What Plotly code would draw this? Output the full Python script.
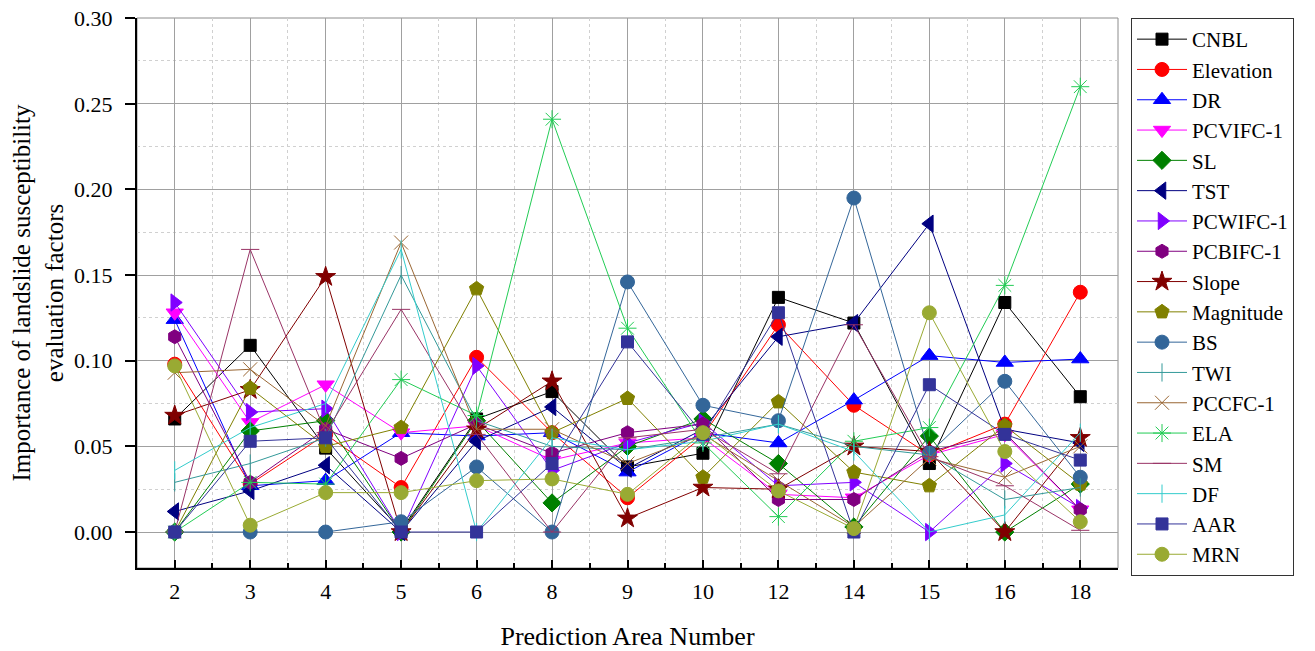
import plotly.graph_objects as go

areas = ["2", "3", "4", "5", "6", "8", "9", "10", "12", "14", "15", "16", "18"]

CNBL      = [0.066, 0.109, 0.049, 0.001, 0.066, 0.082, 0.038, 0.046, 0.137, 0.122, 0.040, 0.134, 0.079]
Elevation = [0.098, 0.028, 0.057, 0.026, 0.102, 0.058, 0.020, 0.056, 0.121, 0.074, 0.045, 0.063, 0.140]
DR        = [0.124, 0.027, 0.030, 0.058, 0.056, 0.058, 0.035, 0.058, 0.052, 0.077, 0.103, 0.099, 0.101]
PCVIFC_1  = [0.128, 0.064, 0.086, 0.058, 0.062, 0.042, 0.052, 0.055, 0.022, 0.020, 0.045, 0.057, 0.013]
SL        = [0.000, 0.059, 0.065, 0.000, 0.065, 0.017, 0.050, 0.066, 0.040, 0.003, 0.056, 0.000, 0.028]
TST       = [0.012, 0.024, 0.039, 0.000, 0.053, 0.073, 0.037, 0.060, 0.114, 0.122, 0.180, 0.060, 0.052]
PCWIFC_1  = [0.134, 0.070, 0.072, 0.000, 0.097, 0.036, 0.052, 0.064, 0.027, 0.029, 0.000, 0.040, 0.014]
PCBIFC_1  = [0.114, 0.029, 0.060, 0.043, 0.063, 0.046, 0.058, 0.063, 0.019, 0.019, 0.047, 0.058, 0.013]
Slope     = [0.068, 0.083, 0.149, 0.000, 0.060, 0.088, 0.008, 0.026, 0.025, 0.050, 0.047, 0.000, 0.055]
Magnitude = [0.000, 0.084, 0.050, 0.061, 0.142, 0.058, 0.078, 0.032, 0.076, 0.035, 0.027, 0.062, 0.028]
BS        = [0.000, 0.000, 0.000, 0.006, 0.038, 0.000, 0.146, 0.074, 0.065, 0.195, 0.046, 0.088, 0.032]
TWI       = [0.029, 0.040, 0.055, 0.150, 0.065, 0.050, 0.048, 0.055, 0.063, 0.050, 0.045, 0.019, 0.026]
PCCFC_1   = [0.093, 0.095, 0.062, 0.169, 0.060, 0.060, 0.040, 0.057, 0.030, 0.003, 0.043, 0.032, 0.050]
ELA       = [0.000, 0.029, 0.028, 0.089, 0.068, 0.241, 0.119, 0.052, 0.009, 0.053, 0.061, 0.144, 0.260]
SM        = [0.000, 0.165, 0.058, 0.130, 0.057, 0.000, 0.055, 0.060, 0.034, 0.121, 0.044, 0.027, 0.001]
DF        = [0.036, 0.061, 0.075, 0.165, 0.000, 0.055, 0.048, 0.053, 0.063, 0.047, 0.000, 0.010, 0.058]
AAR       = [0.000, 0.053, 0.055, 0.000, 0.000, 0.040, 0.111, 0.057, 0.128, 0.000, 0.086, 0.057, 0.042]
MRN       = [0.097, 0.004, 0.023, 0.023, 0.030, 0.031, 0.022, 0.058, 0.024, 0.002, 0.128, 0.047, 0.006]

series = [
    ("CNBL", CNBL, "#000000", "square", 12),
    ("Elevation", Elevation, "#FF0000", "circle", 14),
    ("DR", DR, "#0000FF", "triangle-up", 15),
    ("PCVIFC-1", PCVIFC_1, "#FF00FF", "triangle-down", 15),
    ("SL", SL, "#008000", "diamond", 14),
    ("TST", TST, "#000080", "triangle-left", 15),
    ("PCWIFC-1", PCWIFC_1, "#8000FF", "triangle-right", 15),
    ("PCBIFC-1", PCBIFC_1, "#800080", "hexagon", 14),
    ("Slope", Slope, "#800000", "star", 15),
    ("Magnitude", Magnitude, "#808000", "pentagon", 15),
    ("BS", BS, "#336699", "circle", 14),
    ("TWI", TWI, "#339999", "line-ns-open", 13),
    ("PCCFC-1", PCCFC_1, "#996633", "x-thin-open", 14),
    ("ELA", ELA, "#22CC55", "asterisk-open", 15),
    ("SM", SM, "#993366", "line-ew-open", 13),
    ("DF", DF, "#33CCCC", "line-ns-open", 13),
    ("AAR", AAR, "#333399", "square", 12),
    ("MRN", MRN, "#99AA33", "circle", 14),
]

xpos = list(range(len(areas)))

fig = go.Figure()
for i, (name, vals, col, sym, sz) in enumerate(series):
    fig.add_trace(go.Scatter(
        x=xpos, y=vals, name=name, mode="lines+markers",
        line=dict(color=col, width=1),
        marker=dict(symbol=sym, size=sz, color=col, line=dict(color=col, width=1)),
        legendgroup=f"g{i}",
    ))

font_family = "Liberation Serif, Times New Roman, serif"

# light gray frame on top/right (as in the reference)
fig.add_shape(type="rect", xref="paper", yref="paper", x0=0, y0=0, x1=1, y1=1,
              line=dict(color="#8C8C8C", width=1), layer="below")

W, H = 1307, 643
fig.update_layout(
    width=W, height=H,
    margin=dict(l=129, r=W - 1110, t=10, b=H - 560, autoexpand=False),
    paper_bgcolor="white", plot_bgcolor="white",
    font=dict(family=font_family, size=22, color="black"),
    showlegend=True,
    legend=dict(
        xref="container", yref="container",
        x=(1131 - 8) / W, y=1 - 10 / H, xanchor="left", yanchor="top",
        bordercolor="#333333", borderwidth=1, bgcolor="white",
        font=dict(family=font_family, size=21, color="black"),
        tracegroupgap=0, itemwidth=50, maxheight=640,
    ),
)

fig.update_xaxes(
    range=[-0.5, len(areas) - 0.5], automargin=False,
    tickmode="array", tickvals=xpos, ticktext=areas,
    showgrid=True, gridcolor="#A0A0A0", gridwidth=1,
    showline=True, linecolor="black", linewidth=2, mirror=False,
    ticks="inside", ticklen=8, tickwidth=2, tickcolor="black",
    ticklabelstandoff=3, ticklabeloverflow="allow",
    minor=dict(tick0=0.5, dtick=1, showgrid=True, gridcolor="#D0D0D0",
               griddash="dot", ticks="inside", ticklen=5, tickwidth=2, tickcolor="black"),
    zeroline=False,
    title=dict(text="Prediction Area Number", font=dict(size=26, family=font_family), standoff=25),
    tickfont=dict(size=22, family=font_family),
)
fig.update_yaxes(
    range=[-0.021, 0.3001], automargin=False,
    tickmode="array", tickvals=[0, 0.05, 0.10, 0.15, 0.20, 0.25, 0.30],
    tickformat=".2f",
    showgrid=True, gridcolor="#A0A0A0", gridwidth=1,
    showline=True, linecolor="black", linewidth=2, mirror=False,
    ticks="outside", ticklen=10, tickwidth=2, tickcolor="black",
    ticklabelstandoff=8, ticklabeloverflow="allow",
    minor=dict(tick0=0.025, dtick=0.05, showgrid=True, gridcolor="#D0D0D0",
               griddash="dot"),
    zeroline=False,
    title=dict(text="Importance of landslide susceptibility<br>evaluation factors",
               font=dict(size=25, family=font_family), standoff=5),
    tickfont=dict(size=22, family=font_family),
)

fig.write_html("out.html")
